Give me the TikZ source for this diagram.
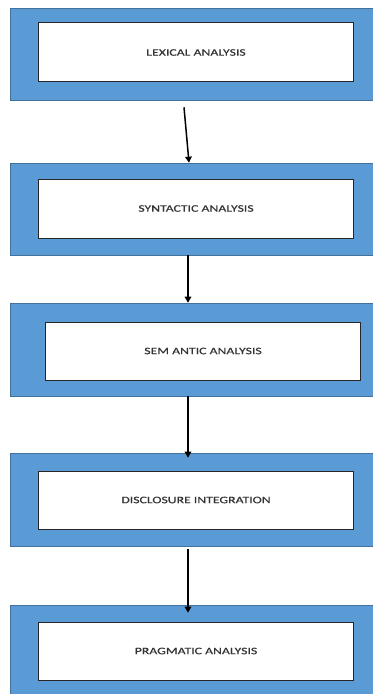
\documentclass[tikz,border=0pt]{standalone}
\usepackage{fontspec}
\setmainfont{Carlito}
\newfontfamily\stagefont{Carlito}[FakeStretch=1.38,FakeBold=0.4]
\usetikzlibrary{arrows.meta}
\definecolor{stageblue}{HTML}{5B9BD5}
\definecolor{stageedge}{HTML}{41719C}
\definecolor{textgray}{HTML}{333333}

\begin{document}
\begin{tikzpicture}[x=1bp,y=-1bp,>={Triangle[length=6bp,width=6.5bp]},
  outer/.style={draw=stageedge,line width=0.6bp,fill=stageblue,minimum width=364bp,minimum height=92bp,inner sep=0pt},
  inner/.style={draw=black!85,line width=1bp,fill=white,minimum width=314bp,minimum height=59bp,inner sep=0pt,font=\stagefont\fontsize{10}{12}\selectfont,text=textgray}]
\useasboundingbox (0,0) rectangle (372,694);
\node[outer](lexo) at (192,54) {};
\node[outer](synto) at (192,209) {};
\node[outer,minimum height=93bp](semo) at (192,349.5) {};
\node[outer,minimum height=93bp](disco) at (192,499.5) {};
\node[outer](prago) at (192,651) {};

\node[inner](lex) at (196,52.5) {LEXICAL ANALYSIS};
\node[inner](synt) at (196,208.5) {SYNTACTIC ANALYSIS};
\node[inner,minimum height=58bp](sem) at (203,351) {SEM ANTIC ANALYSIS};
\node[inner,minimum height=58bp](disc) at (196,500) {DISCLOSURE INTEGRATION};
\node[inner,minimum height=58bp](prag) at (196,651) {PRAGMATIC ANALYSIS};

\draw[->,line width=1.5bp] ([xshift=-8bp,yshift=-7bp]lexo.south) -- ([xshift=-3bp]synto.north);
\draw[->,line width=1.5bp] ([xshift=-4bp]synto.south) -- ([xshift=-4bp]semo.north);
\draw[->,line width=1.5bp] ([xshift=-4bp]semo.south) -- ([xshift=-4bp,yshift=-5bp]disco.north);
\draw[->,line width=1.5bp] ([xshift=-4bp,yshift=-3bp]disco.south) -- ([xshift=-4bp,yshift=-8bp]prago.north);
\end{tikzpicture}
\end{document}
